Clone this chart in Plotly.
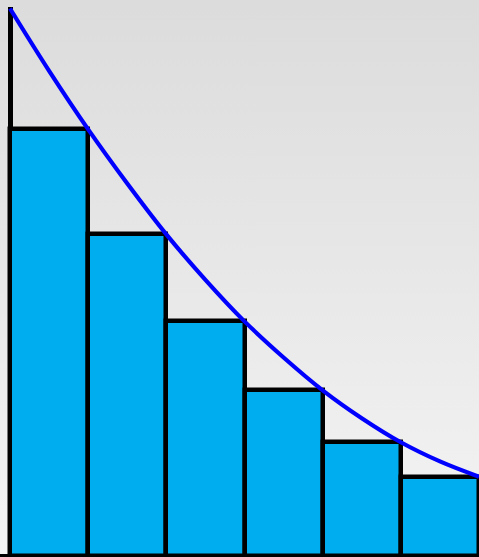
import base64
import plotly.graph_objects as go

# Curve values (x in units, y in units)
curve_x = [0, 0.5, 1, 1.5, 2, 2.5, 3, 3.5, 4, 4.5, 5, 5.5, 6]
curve_y = [10.0, 8.86, 7.79, 6.80, 5.87, 5.04, 4.28, 3.62, 3.02, 2.51, 2.07, 1.72, 1.44]

# Right-endpoint rectangles
bar_x = [0.5, 1.5, 2.5, 3.5, 4.5, 5.5]
bar_y = [7.79, 5.87, 4.28, 3.02, 2.07, 1.43]

W, H = 479, 557
PX_PER_X = 469 / 6.0
PX_PER_Y = 54.7
TOP_M = 7
ZERO_PX = 555.5

x_range = [-10 / PX_PER_X, 6]
y_range = [-(H - ZERO_PX) / PX_PER_Y, (ZERO_PX - TOP_M) / PX_PER_Y]

svg = ('<svg xmlns="http://www.w3.org/2000/svg" width="100" height="100" '
       'preserveAspectRatio="none"><defs><linearGradient id="g" x1="0" y1="0" x2="0" y2="1">'
       '<stop offset="0" stop-color="#dcdcdc"/><stop offset="1" stop-color="#f4f4f4"/>'
       '</linearGradient></defs><rect width="100" height="100" fill="url(#g)"/></svg>')
src = "data:image/svg+xml;base64," + base64.b64encode(svg.encode()).decode()

fig = go.Figure()
fig.add_trace(go.Bar(
    x=bar_x, y=bar_y, width=1,
    marker=dict(color="#00ADEF", line=dict(color="black", width=4.5)),
    hoverinfo="skip",
))
fig.add_trace(go.Scatter(
    x=curve_x, y=curve_y, mode="lines",
    line=dict(color="#0000FF", width=4.2, shape="spline", smoothing=1.0),
    hoverinfo="skip",
))

fig.update_layout(
    width=W, height=H,
    margin=dict(l=0, r=0, t=TOP_M, b=0),
    paper_bgcolor="#dcdcdc",
    plot_bgcolor="rgba(0,0,0,0)",
    showlegend=False,
    bargap=0,
    images=[dict(source=src, xref="paper", yref="paper", x=0, y=1,
                 sizex=1, sizey=1, xanchor="left", yanchor="top",
                 sizing="stretch", layer="below")],
    xaxis=dict(range=x_range, showgrid=False, showticklabels=False, ticks="",
               zeroline=True, zerolinecolor="black", zerolinewidth=4.5, fixedrange=True),
    yaxis=dict(range=y_range, showgrid=False, showticklabels=False, ticks="",
               zeroline=True, zerolinecolor="black", zerolinewidth=4, fixedrange=True),
)

fig.write_html(
    "out.html",
    config={"displayModeBar": False},
    post_script="document.body.style.margin='0';document.body.style.overflow='hidden';",
)
